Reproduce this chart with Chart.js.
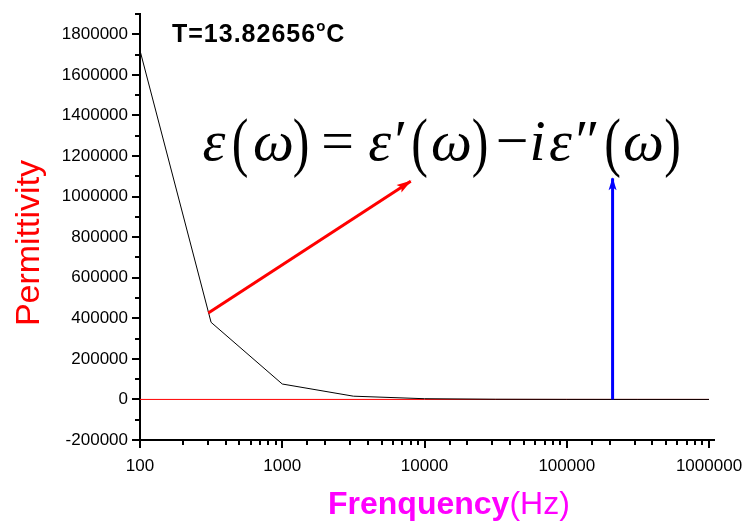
<!DOCTYPE html>
<html>
<head>
<meta charset="utf-8">
<title>Permittivity vs frequency</title>
<script src="https://cdn.jsdelivr.net/npm/chart.js@4/dist/chart.umd.min.js"></script>
<style>
  html, body { margin: 0; padding: 0; background: #fff; }
  #wrap { width: 745px; height: 524px; }
</style>
</head>
<body>
<div id="wrap"><canvas id="permChart" width="745" height="524"></canvas></div>
<script>
// frequency sweep (Hz) and measured permittivity
const frequencies = [100, 316, 1000, 3162, 10000, 31623, 100000, 316228, 1000000];
const permittivity = [1720000, 380000, 76000, 16000, 3500, 900, 250, 60, 15];

// zero reference line
const zeroLineX = [100, 1000000];
const zeroLineY = [0, 0];

// arrows pointing at the real and the imaginary part
const realArrowX = [302, 8000];
const realArrowY = [426000, 1076000];
const imagArrowX = [210000, 210000];
const imagArrowY = [0, 1090000];

// axis setup
const xTickLabels = [100, 1000, 10000, 100000, 1000000];
const yMin = -200000;
const yMax = 1900000;
const yStep = 100000;
const yLabelStep = 200000;

const sansFamily = '"Liberation Sans", Arial, sans-serif';

// pick the first serif face that is really installed
function pickSerif() {
    const c = document.createElement('canvas').getContext('2d');
    const probe = 'mmmwwwiiilll \u03b5\u03c9 (0123)';
    c.font = 'italic 40px monospace';
    const base = c.measureText(probe).width;
    const names = ['Liberation Serif', 'DejaVu Serif', 'Noto Serif', 'Tinos', 'Times New Roman', 'FreeSerif'];
    for (let i = 0; i < names.length; i++) {
        c.font = 'italic 40px "' + names[i] + '", monospace';
        if (Math.abs(c.measureText(probe).width - base) > 0.5) return '"' + names[i] + '", serif';
    }
    return 'serif';
}
const serifFamily = pickSerif();

function toPoints(xs, ys) {
    return xs.map(function (x, i) { return { x: x, y: ys[i] }; });
}

// arrow heads at the last point of the arrow datasets
const arrowHeads = {
    id: 'arrowHeads',
    afterDatasetsDraw: function (chart) {
        const ctx = chart.ctx;
        chart.data.datasets.forEach(function (ds, i) {
            if (!ds.arrowHead) return;
            const pts = chart.getDatasetMeta(i).data;
            const a = pts[pts.length - 2], b = pts[pts.length - 1];
            const ang = Math.atan2(b.y - a.y, b.x - a.x);
            const len = ds.arrowHead.length, hw = ds.arrowHead.halfWidth;
            ctx.save();
            ctx.translate(b.x, b.y);
            ctx.rotate(ang);
            ctx.beginPath();
            ctx.moveTo(1, 0);
            ctx.lineTo(-len, -hw);
            ctx.lineTo(-len + 3, 0);
            ctx.lineTo(-len, hw);
            ctx.closePath();
            ctx.fillStyle = ds.borderColor;
            ctx.fill();
            ctx.restore();
        });
    }
};

// major / minor tick marks on both axes
const tickMarks = {
    id: 'tickMarks',
    afterDraw: function (chart) {
        const ctx = chart.ctx;
        const xs = chart.scales.x, ys = chart.scales.y;
        const area = chart.chartArea;
        ctx.save();
        ctx.strokeStyle = '#000';
        ctx.lineWidth = 2;
        ctx.beginPath();
        xs.ticks.forEach(function (t) {
            const px = Math.round(xs.getPixelForValue(t.value));
            const major = xTickLabels.indexOf(t.value) >= 0;
            ctx.moveTo(px, area.bottom);
            ctx.lineTo(px, area.bottom + (major ? 8 : 5));
        });
        ys.ticks.forEach(function (t) {
            const py = Math.round(ys.getPixelForValue(t.value));
            const major = t.value % yLabelStep === 0;
            ctx.moveTo(area.left, py);
            ctx.lineTo(area.left - (major ? 8 : 5), py);
        });
        // axis runs a little past the last decade
        ctx.moveTo(area.right, area.bottom);
        ctx.lineTo(area.right + 6, area.bottom);
        ctx.stroke();
        ctx.restore();
    }
};

// temperature note, formula and axis titles
const annotations = {
    id: 'annotations',
    afterDraw: function (chart) {
        const ctx = chart.ctx;
        ctx.save();

        // temperature
        ctx.fillStyle = '#000';
        ctx.textBaseline = 'alphabetic';
        ctx.textAlign = 'left';
        ctx.font = 'bold 25px ' + sansFamily;
        ctx.letterSpacing = '1px';
        let tx = 172;
        ctx.fillText('T=13.82656', tx, 42);
        tx += ctx.measureText('T=13.82656').width;
        ctx.letterSpacing = '0px';
        ctx.font = 'bold 15px ' + sansFamily;
        ctx.fillText('o', tx, 31);
        tx += ctx.measureText('o').width + 1;
        ctx.font = 'bold 25px ' + sansFamily;
        ctx.fillText('C', tx, 42);

        // epsilon(omega) = epsilon'(omega) - i epsilon''(omega)
        const italic = 'italic 58px ' + serifFamily;
        const roman = '58px ' + serifFamily;
        const glyphs = [
            ['\u03b5', 214, italic], ['(', 240, 'p'], ['\u03c9', 273.5, italic], [')', 301, 'p'],
            ['=', 337.5, roman],
            ['\u03b5\u2032', 386, italic], ['(', 419.5, 'p'], ['\u03c9', 451.5, italic], [')', 480, 'p'],
            ['\u2212', 512, roman],
            ['i', 537.5, italic], ['\u03b5\u2033', 572.5, italic], ['(', 612.5, 'p'], ['\u03c9', 643.5, italic], [')', 672.5, 'p']
        ];
        ctx.textAlign = 'center';
        glyphs.forEach(function (g) {
            if (g[2] === 'p') {
                // tall brackets stretched to span 117..178
                ctx.font = '50px ' + serifFamily;
                const m = ctx.measureText(g[0]);
                const h = m.actualBoundingBoxAscent + m.actualBoundingBoxDescent;
                const s = 61 / h;
                ctx.save();
                ctx.translate(g[1], 117 + m.actualBoundingBoxAscent * s);
                ctx.scale(1, s);
                ctx.fillText(g[0], 0, 0);
                ctx.restore();
            } else {
                ctx.font = g[2];
                ctx.fillText(g[0], g[1], 160);
            }
        });

        // y axis title
        ctx.save();
        ctx.translate(39, 243);
        ctx.rotate(-Math.PI / 2);
        ctx.textAlign = 'center';
        ctx.fillStyle = '#ff0000';
        ctx.font = '34px ' + sansFamily;
        ctx.fillText('Permittivity', 0, 0);
        ctx.restore();

        // x axis title
        ctx.textAlign = 'left';
        ctx.fillStyle = '#ff00ff';
        ctx.font = 'bold 32px ' + sansFamily;
        let xx = 328;
        ctx.fillText('Frenquency', xx, 514);
        xx += ctx.measureText('Frenquency').width;
        ctx.font = '32px ' + sansFamily;
        ctx.fillText('(Hz)', xx, 514);

        ctx.restore();
    }
};

const ctx = document.getElementById('permChart').getContext('2d');
new Chart(ctx, {
    type: 'line',
    data: {
        datasets: [
            {
                data: toPoints(realArrowX, realArrowY),
                borderColor: '#ff0000',
                borderWidth: 3,
                pointRadius: 0,
                arrowHead: { length: 14, halfWidth: 4.5 }
            },
            {
                data: toPoints(imagArrowX, imagArrowY),
                borderColor: '#0000ff',
                borderWidth: 3,
                pointRadius: 0,
                arrowHead: { length: 12, halfWidth: 4 }
            },
            {
                label: 'Permittivity',
                data: toPoints(frequencies, permittivity),
                borderColor: '#000',
                borderWidth: 1,
                pointRadius: 0,
                tension: 0
            },
            {
                data: toPoints(zeroLineX, zeroLineY),
                borderColor: '#ff0000',
                borderWidth: 1,
                pointRadius: 0
            }
        ]
    },
    options: {
        responsive: false,
        animation: false,
        layout: { padding: { top: 14, right: 36, left: 0, bottom: 0 } },
        plugins: {
            legend: { display: false },
            tooltip: { enabled: false }
        },
        scales: {
            x: {
                type: 'logarithmic',
                min: 100,
                max: 1000000,
                grid: { display: false, drawTicks: false },
                border: { display: true, color: '#000', width: 2 },
                ticks: {
                    autoSkip: false,
                    maxRotation: 0,
                    padding: 16,
                    color: '#000',
                    font: { family: sansFamily, size: 17 },
                    callback: function (value) {
                        return xTickLabels.indexOf(value) >= 0 ? String(value) : '';
                    }
                },
                afterFit: function (scale) {
                    scale.height = 84;
                    scale.paddingLeft = 0;
                    scale.paddingRight = 0;
                }
            },
            y: {
                min: yMin,
                max: yMax,
                grid: { display: false, drawTicks: false },
                border: { display: true, color: '#000', width: 2 },
                ticks: {
                    stepSize: yStep,
                    autoSkip: false,
                    padding: 12,
                    color: '#000',
                    font: { family: sansFamily, size: 17 },
                    callback: function (value) {
                        return value % yLabelStep === 0 ? String(value) : '';
                    }
                },
                afterFit: function (scale) {
                    scale.width = 140;
                    scale.paddingTop = 0;
                    scale.paddingBottom = 0;
                }
            }
        }
    },
    plugins: [arrowHeads, tickMarks, annotations]
});
</script>
</body>
</html>
